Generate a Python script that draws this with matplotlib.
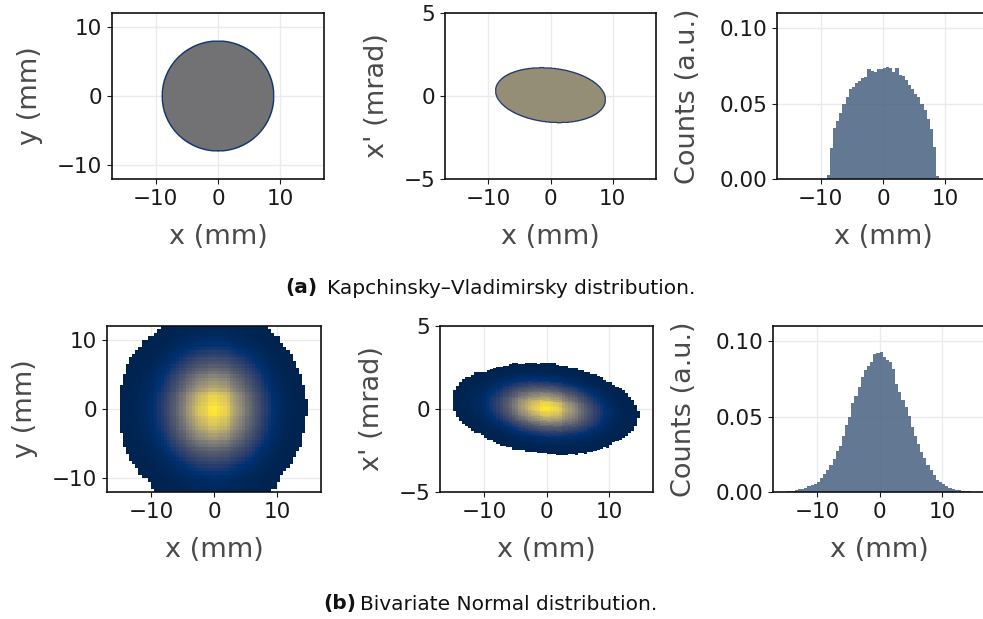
import numpy as np
import matplotlib
matplotlib.use("Agg")
import matplotlib.pyplot as plt

# ---- values ----
# x-histograms (density, 0.5 mm bins)
kv_bin_start, kv_bin_width = -9.0, 0.5
kv_hist = [0.0026, 0.0205, 0.0336, 0.0386, 0.0437, 0.0497, 0.0541, 0.0594, 0.0607,
           0.0638, 0.0647, 0.0669, 0.0678, 0.0728, 0.0717, 0.0711, 0.0731, 0.0731,
           0.0735, 0.0744, 0.0735, 0.0706, 0.0735, 0.0687, 0.0680, 0.0656, 0.0625,
           0.0598, 0.0563, 0.0541, 0.0497, 0.0457, 0.0397, 0.0331, 0.0214, 0.0022]

gauss_bin_start, gauss_bin_width = -16.0, 0.5
gauss_hist = [0.0001, 0.0002, 0.0004, 0.0006, 0.0009, 0.0013, 0.0018, 0.0020,
              0.0029, 0.0040, 0.0044, 0.0051, 0.0066, 0.0095, 0.0119, 0.0143,
              0.0178, 0.0220, 0.0275, 0.0308, 0.0370, 0.0445, 0.0500, 0.0588,
              0.0638, 0.0694, 0.0760, 0.0808, 0.0837, 0.0863, 0.0914, 0.0922,
              0.0929, 0.0896, 0.0874, 0.0863, 0.0815, 0.0716, 0.0660, 0.0610,
              0.0561, 0.0506, 0.0429, 0.0374, 0.0319, 0.0264, 0.0227, 0.0176,
              0.0143, 0.0110, 0.0081, 0.0066, 0.0051, 0.0037, 0.0026, 0.0020,
              0.0015, 0.0011, 0.0008, 0.0006, 0.0004, 0.0003, 0.0002, 0.0001]

# KV phase-space shapes (mm, mrad) and mean colour level on the colormap
kv_xy_axes = (8.95, 7.95)      # half-width in x, half-height in y
kv_xy_level = 0.45
kv_xxp_axes = (8.85, 1.63)     # half-width in x, half-height in x'
kv_xxp_tilt = 0.03             # mrad per mm (x' centre line falls with x)
kv_xxp_offset = 0.05
kv_xxp_level = 0.60

# Gaussian x-x' : width ratio (mm per mrad), tilt, offset
g_xxp_scale = 5.5
g_xxp_tilt = 0.03
g_xxp_offset = 0.05
g_empty_level = 0.003          # below this the 2D bins are empty (white)

captions = [("(a)", "Kapchinsky\u2013Vladimirsky distribution."),
            ("(b)", "Bivariate Normal distribution.")]

# ---- style ----
TICK = "#1a1a1a"
LABEL = "#4a4a4a"
GRID = "#ebebeb"
BAR = "#476180"
CMAP = plt.get_cmap("cividis")

plt.rcParams.update({
    "font.family": "DejaVu Sans",
    "xtick.labelsize": 15.5,
    "ytick.labelsize": 15.5,
    "xtick.color": TICK,
    "ytick.color": TICK,
    "axes.labelsize": 19.5,
    "axes.labelcolor": LABEL,
    "axes.edgecolor": "#111111",
    "axes.linewidth": 1.2,
    "xtick.major.size": 3.5,
    "ytick.major.size": 3.5,
})

W, H = 983, 619
fig = plt.figure(figsize=(W / 100, H / 100), dpi=100)


def px_axes(left, top, right, bottom):
    return fig.add_axes([left / W, 1 - bottom / H, (right - left) / W, (bottom - top) / H])


def style(ax, ylim, yticks, ylabel, ypad=10):
    ax.set_xlim(-17, 17)
    ax.set_ylim(*ylim)
    ax.set_xticks([-10, 0, 10])
    ax.set_yticks(yticks)
    ax.grid(True, color=GRID, linewidth=1.0)
    ax.set_axisbelow(True)
    ax.set_xlabel("x (mm)", labelpad=11)
    ax.set_ylabel(ylabel, labelpad=ypad)


kv_edges = kv_bin_start + kv_bin_width * np.arange(len(kv_hist) + 1)
g_edges = gauss_bin_start + gauss_bin_width * np.arange(len(gauss_hist) + 1)
g_norm = np.array(gauss_hist) / max(gauss_hist)

# fine grid for the KV shapes
fx = np.linspace(-17, 17, 681)
fy = np.linspace(-12, 12, 481)
fxp = np.linspace(-5, 5, 401)

# ---------- row (a) ----------
ax = px_axes(112, 13, 324, 179)
X, Y = np.meshgrid(fx, fy)
a, b = kv_xy_axes
inside = (X / a) ** 2 + (Y / b) ** 2 <= 1
img = np.ma.masked_where(~inside, np.full(X.shape, kv_xy_level))
ax.pcolormesh(fx, fy, img, cmap=CMAP, vmin=0, vmax=1, shading="nearest", zorder=2)
ax.contour(fx, fy, inside.astype(float), levels=[0.5], colors=[CMAP(0.12)],
           linewidths=1.0, zorder=3)
style(ax, (-12, 12), [-10, 0, 10], "y (mm)")

ax = px_axes(445, 13, 656, 179)
X, XP = np.meshgrid(fx, fxp)
a, b = kv_xxp_axes
inside = (X / a) ** 2 + ((XP - kv_xxp_offset + kv_xxp_tilt * X) / b) ** 2 <= 1
img = np.ma.masked_where(~inside, np.full(X.shape, kv_xxp_level))
ax.pcolormesh(fx, fxp, img, cmap=CMAP, vmin=0, vmax=1, shading="nearest", zorder=2)
ax.contour(fx, fxp, inside.astype(float), levels=[0.5], colors=[CMAP(0.15)],
           linewidths=0.9, zorder=3)
style(ax, (-5, 5), [-5, 0, 5], "x' (mrad)")

ax = px_axes(777, 13, 989, 179)
ax.stairs(kv_hist, kv_edges, fill=True, color=BAR, alpha=0.85, zorder=2)
style(ax, (0, 0.11), [0, 0.05, 0.10], "Counts (a.u.)", ypad=13)
ax.set_yticklabels(["0.00", "0.05", "0.10"])

# ---------- row (b) ----------
ax = px_axes(107, 326, 321, 492)
dens = g_norm[:, None] * g_norm[None, :]
img = np.ma.masked_where(dens < g_empty_level, dens)
ax.pcolormesh(g_edges, g_edges, img, cmap=CMAP, vmin=0, vmax=1, zorder=2)
style(ax, (-12, 12), [-10, 0, 10], "y (mm)")

ax = px_axes(440, 326, 653, 492)
xc = 0.5 * (g_edges[:-1] + g_edges[1:])
xp_edges = np.linspace(-5, 5, 201)
xpc = 0.5 * (xp_edges[:-1] + xp_edges[1:])
Xc, XPc = np.meshgrid(xc, xpc)
u = (XPc - g_xxp_offset + g_xxp_tilt * Xc) * g_xxp_scale
ui = np.digitize(u, g_edges) - 1
ok = (ui >= 0) & (ui < len(g_norm))
dens = np.where(ok, g_norm[np.clip(ui, 0, len(g_norm) - 1)], 0) * g_norm[None, :]
img = np.ma.masked_where(dens < g_empty_level, dens)
ax.pcolormesh(g_edges, xp_edges, img, cmap=CMAP, vmin=0, vmax=1, zorder=2)
style(ax, (-5, 5), [-5, 0, 5], "x' (mrad)")

ax = px_axes(773, 326, 986, 492)
ax.stairs(gauss_hist, g_edges, fill=True, color=BAR, alpha=0.85, zorder=2)
style(ax, (0, 0.11), [0, 0.05, 0.10], "Counts (a.u.)", ypad=13)
ax.set_yticklabels(["0.00", "0.05", "0.10"])

# ---------- captions ----------
for (tag, text), (x0, x1, yc) in zip(captions, [(285, 327, 288), (323, 360, 604)]):
    fig.text(x0 / W, 1 - yc / H, tag, fontsize=14.5, fontweight="bold",
             va="center", ha="left", color="#111111")
    fig.text(x1 / W, 1 - yc / H, text, fontsize=14.5, va="center", ha="left",
             color="#111111")

fig.savefig("out.png", dpi=100)
